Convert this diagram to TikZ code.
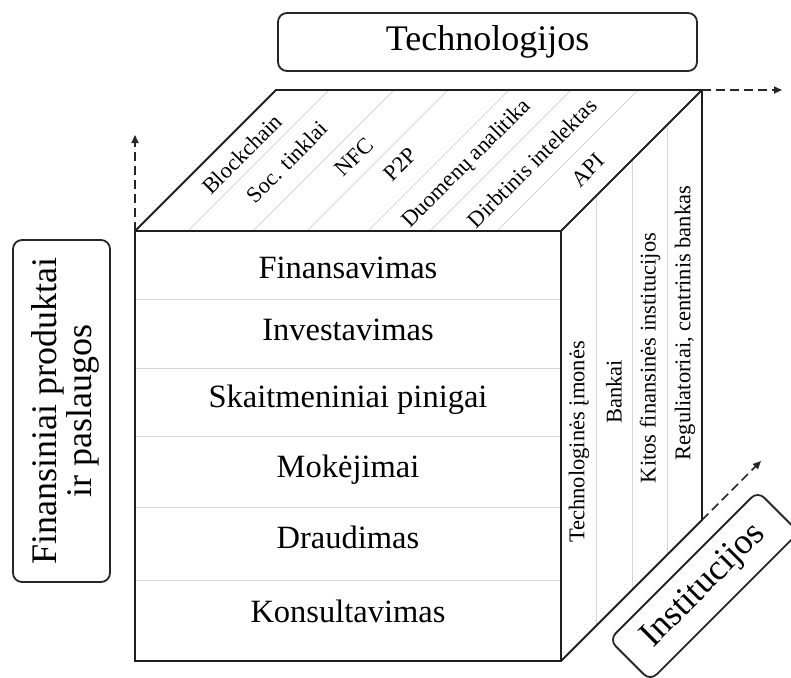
\documentclass[tikz,border=0pt]{standalone}
\usepackage{fontspec}
\setmainfont{Liberation Serif}
\usetikzlibrary{arrows.meta}

\begin{document}
\begin{tikzpicture}[x=1pt,y=-1pt,
  edge/.style={line width=1.8pt, draw=black!88, line join=miter},
  divider/.style={line width=0.9pt, draw=black!16},
  axisarrow/.style={line width=1.7pt, draw=black!85, dash pattern=on 9pt off 5pt,
    -{Triangle[length=8pt,width=7pt]}},
  titlebox/.style={draw=black!85, line width=1.8pt, rounded corners=9pt,
    font=\fontsize{36}{35}\selectfont, inner sep=0pt, align=center},
  rowlabel/.style={font=\fontsize{32.5}{34}\selectfont, anchor=base, inner sep=0pt},
  toplabel/.style={font=\fontsize{22.5}{24}\selectfont, rotate=45, inner sep=0pt},
  sidelabel/.style={font=\fontsize{22.5}{24}\selectfont, rotate=90, inner sep=0pt}
]
\useasboundingbox (0,0) rectangle (791,677);
\clip (0,0) rectangle (791,677);

% cube corners: front face, then the back edge seen from above
\coordinate (ftl) at (135,231);
\coordinate (ftr) at (561,231);
\coordinate (fbr) at (561,661);
\coordinate (fbl) at (135,661);
\coordinate (btl) at (276,90);
\coordinate (btr) at (702,90);
\coordinate (bbr) at (702,520);

% light dividers on the front face (rows)
\foreach \yy in {299,368,436,507,580}
  \draw[divider] (135,\yy) -- (561,\yy);
% light dividers on the top face (slanted strips)
\foreach \xx in {188,253,307,368,430,497}
  \draw[divider] (\xx,231) -- ({\xx+141},90);
% light dividers on the right face (columns)
\foreach \xx in {596.5,632,667.5}
  \draw[divider] (\xx,{231-(\xx-561)}) -- (\xx,{661-(\xx-561)});

% cube outline
\draw[edge] (ftl) -- (ftr) -- (fbr) -- (fbl) -- cycle;
\draw[edge] (ftl) -- (btl) -- (btr) -- (ftr);
\draw[edge] (btr) -- (bbr) -- (fbr);

% front face: products and services
\node[rowlabel] (r1) at (348,278) {Finansavimas};
\node[rowlabel] (r2) at (348,340) {Investavimas};
\node[rowlabel] (r3) at (348,407) {Skaitmeniniai pinigai};
\node[rowlabel] (r4) at (348,477) {Mokėjimai};
\node[rowlabel] (r5) at (348,548) {Draudimas};
\node[rowlabel] (r6) at (348,622) {Konsultavimas};

% top face: technologies
\node[toplabel] (t1) at (242,154) {Blockchain};
\node[toplabel] (t2) at (287,162) {Soc. tinklai};
\node[toplabel] (t3) at (354,157) {NFC};
\node[toplabel] (t4) at (400,164) {P2P};
\node[toplabel] (t5) at (467,164) {Duomenų analitika};
\node[toplabel] (t6) at (532,163) {Dirbtinis intelektas};
\node[toplabel] (t7) at (588,170) {API};

% right face: institutions
\node[sidelabel] (s1) at (579,442) {Technologinės įmonės};
\node[sidelabel] (s2) at (614,392) {Bankai};
\node[sidelabel] (s3) at (650,358) {Kitos finansinės institucijos};
\node[sidelabel] (s4) at (685,323) {Reguliatoriai, centrinis bankas};

% axis titles
\node[titlebox, minimum width=419pt, minimum height=58pt] (techbox) at (487.5,42) {Technologijos};
\node[titlebox, rotate=90, minimum width=342pt, minimum height=97pt] (prodbox) at (61.5,411) {};
\node[font=\fontsize{36}{35}\selectfont, rotate=90, align=center, inner sep=0pt] (prodtext)
  at (65.5,411) {Finansiniai produktai\\ir paslaugos};
\node[titlebox, rotate=45, minimum width=210pt, minimum height=58pt] (instbox) at (704,586) {Institucijos};

% axis directions
\coordinate (upend) at (135,135);
\coordinate (rightend) at (782,90);
\coordinate (diagend) at (761,461);
\draw[axisarrow] (ftl) -- (upend);
\draw[axisarrow] (btr) -- (rightend);
\draw[axisarrow] (bbr) -- (diagend);
\end{tikzpicture}
\end{document}
